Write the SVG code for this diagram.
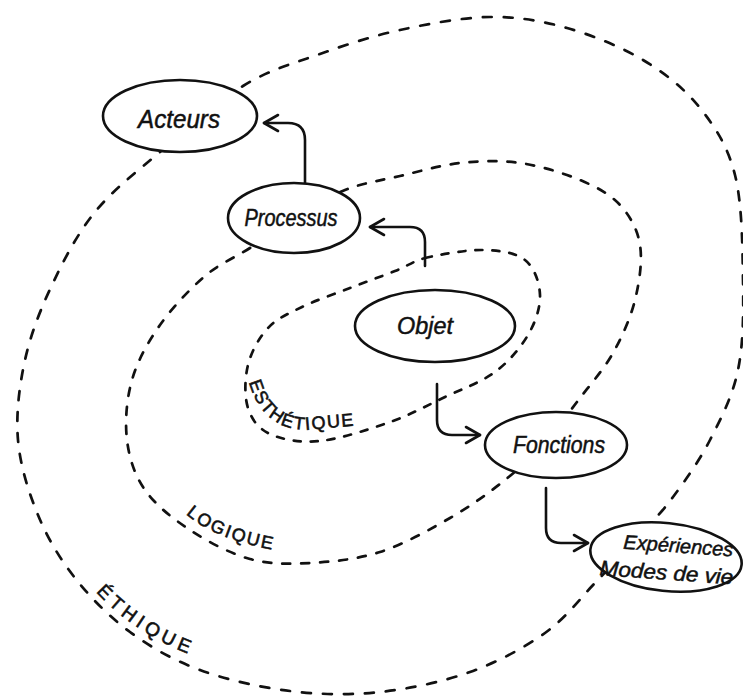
<svg xmlns="http://www.w3.org/2000/svg" width="743" height="700" viewBox="0 0 743 700">
<style>
.bg{fill:#fff}
.loop{fill:none;stroke:#111;stroke-width:2.7;stroke-linecap:round}
.outer{stroke-dasharray:9 12}
.middle{stroke-dasharray:8 11}
.inner{stroke-dasharray:7 10}
.node{fill:#fff;stroke:#111;stroke-width:2.6}
.lbl{font-family:"Liberation Sans","DejaVu Sans",sans-serif;font-style:italic;fill:#111;stroke:#111;stroke-width:0.5;text-anchor:middle}
.cap{font-family:"Liberation Sans","DejaVu Sans",sans-serif;fill:#111;stroke:#111;stroke-width:0.6;font-size:18px}
.arrow{fill:none;stroke:#111;stroke-width:2.6;stroke-linecap:round;stroke-linejoin:round;marker-end:url(#head)}
</style>
<defs>
<marker id="head" viewBox="0 0 20 20" refX="17" refY="10" markerWidth="20" markerHeight="20" markerUnits="userSpaceOnUse" orient="auto">
<path d="M3,2 L17,10 L3,18" fill="none" stroke="#111" stroke-width="2.6" stroke-linecap="round" stroke-linejoin="round"/>
</marker>
<path id="pEsth" d="M249,382 Q262,428 305,430 L375,424"/>
<path id="pLog" d="M186,514 Q218,543 294,553"/>
<path id="pEth" d="M96,592 Q140,640 214,663"/>
</defs>
<rect class="bg" x="0" y="0" width="743" height="700"/>

<g id="loops">
<path id="loop-ethique" class="loop outer" d="M160,152 C184.7,131 216.8,102.2 243,86 S290.8,64.3 317,55 S371.2,36.3 400,30 S462.2,17.3 490,17 S541.5,20.8 567,28 S620.8,46.7 643,60 S684.7,88.8 700,108 S727.8,146.3 735,175 S742.5,247.5 743,280 S743.5,343.3 738,370 S720.8,418.8 710,440 S684.7,481.2 673,497 S653,520.7 640,535 S610.8,566.7 595,583 S565.8,618.2 545,633 S497.5,662.2 470,672 S410,688.8 380,692 S320,694.7 290,691 S226.7,679.8 200,670 S150.8,647.3 130,632 S90.3,597.5 75,578 S47.5,538 38,515 S20.2,465.8 18,440 S19.3,385.8 25,360 S40.3,309.7 52,285 S77,234.2 95,212 S135.3,173 160,152 Z"/>
<path id="loop-logique" class="loop middle" d="M250,248 C235,257.7 220,263.2 205,276 S172.2,307.7 160,325 S137.5,360.8 132,380 S124.8,421.7 127,440 S134.5,475 145,490 S172.5,518.5 190,530 S230,553.5 250,559 S288.3,564.2 310,563 S356.7,559.5 380,552 S429.2,530 450,518 S489.2,492.7 505,480 S532.5,455.7 545,442 S568.7,412.8 580,398 S603.8,369.3 613,353 S630.5,318 635,300 S642.5,260.8 640,245 S630,215.8 620,205 S596.7,187 580,180 S540,165.8 520,163 S480,160.8 460,163 S419.2,171.5 400,176 S362.5,183 345,190 S310.8,208.3 295,218 S265,238.3 250,248 Z"/>
<path id="loop-esthetique" class="loop inner" d="M425,258 C439.7,254.5 466.3,249.7 483,250 S515.5,252.5 525,260 S539.5,282.5 540,295 S535.5,322.2 528,335 S508.8,361.7 495,372 S462.5,388.7 445,397 S410.8,414.7 390,422 S340,439 320,441 S282,439.5 270,434 S251.7,419.5 248,408 S244.7,378.3 248,365 S259,337.7 268,328 S288.3,313.7 302,307 S334.5,294 350,288 S382.5,276 395,271 S412.7,261.5 425,258 Z"/>
</g>

<g id="loop-labels">
<text class="cap" letter-spacing="1.5"><textPath href="#pEsth">ESTHÉTIQUE</textPath></text>
<text class="cap" letter-spacing="2"><textPath href="#pLog">LOGIQUE</textPath></text>
<text class="cap" letter-spacing="4.5" style="font-size:19px"><textPath href="#pEth">ÉTHIQUE</textPath></text>
</g>

<g id="connectors">
<path class="arrow" d="M305,183 L305,140 Q305,123 288,123 L264,123"/>
<path class="arrow" d="M425,266 L425,242 Q425,227 410,227 L370,227"/>
<path class="arrow" d="M437,384 L437,420 Q437,435 452,435 L480,435"/>
<path class="arrow" d="M546,488 L546,528 Q546,543 561,543 L588,543"/>
</g>

<g id="node-acteurs">
<ellipse class="node" cx="180" cy="116" rx="77" ry="36"/>
<text class="lbl" x="179" y="128" font-size="26" textLength="82" lengthAdjust="spacingAndGlyphs">Acteurs</text>
</g>
<g id="node-processus">
<ellipse class="node" cx="294" cy="218" rx="66" ry="35"/>
<text class="lbl" x="291" y="226" font-size="23" textLength="93" lengthAdjust="spacingAndGlyphs">Processus</text>
</g>
<g id="node-objet">
<ellipse class="node" cx="435" cy="326" rx="80" ry="36"/>
<text class="lbl" x="425" y="334" font-size="24" textLength="56" lengthAdjust="spacingAndGlyphs">Objet</text>
</g>
<g id="node-fonctions">
<ellipse class="node" cx="556" cy="445" rx="71" ry="33"/>
<text class="lbl" x="559" y="453" font-size="23" textLength="92" lengthAdjust="spacingAndGlyphs">Fonctions</text>
</g>
<g id="node-experiences">
<ellipse class="node" cx="666" cy="557" rx="76" ry="34" transform="rotate(6 666 557)"/>
<g transform="rotate(4 670 566)">
<text class="lbl" x="677" y="552" font-size="20" textLength="110" lengthAdjust="spacingAndGlyphs">Expériences</text>
<text class="lbl" x="667" y="580" font-size="21" textLength="134" lengthAdjust="spacingAndGlyphs">Modes de vie</text>
</g>
</g>
</svg>
